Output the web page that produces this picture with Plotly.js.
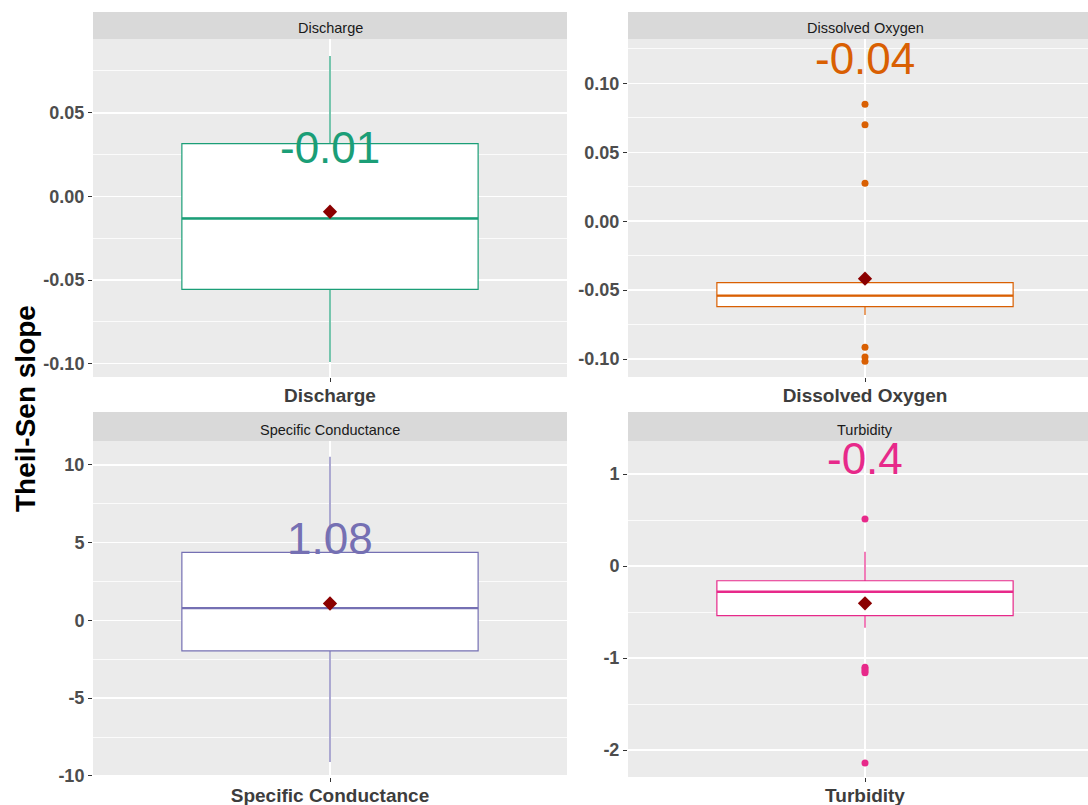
<!DOCTYPE html>
<html>
<head>
<meta charset="utf-8">
<script src="https://cdn.plot.ly/plotly-3.0.1.min.js"></script>
<style>html,body{margin:0;padding:0;background:#fff;}#chart{width:1088px;height:805px;}</style>
</head>
<body>
<div id="chart"></div>
<script>
// ---- data ----
const categories = ['Discharge', 'Dissolved Oxygen', 'Specific Conductance', 'Turbidity'];
const colors = ['#1B9E77', '#D95F02', '#7570B3', '#E7298A'];
const q1Values = [-0.0556, -0.0620, -1.96, -0.54];
const medianValues = [-0.0132, -0.0540, 0.79, -0.28];
const q3Values = [0.0315, -0.0446, 4.38, -0.16];
const lowerWhisker = [-0.099, -0.068, -9.1, -0.67];
const upperWhisker = [0.0839, -0.0446, 10.53, 0.155];
const meanValues = [-0.0092, -0.0417, 1.09, -0.405];
const meanLabels = ['-0.01', '-0.04', '1.08', '-0.4'];
const labelY = [0.0292, 0.1182, 5.30, 1.171];
const outlierDischarge = [];
const outlierOxygen = [0.0848, 0.0700, 0.0275, -0.0915, -0.0985, -0.1015];
const outlierConductance = [];
const outlierTurbidity = [0.51, -1.10, -1.12, -1.14, -1.16, -2.14];
const yRanges = [[-0.108, 0.0941], [-0.113, 0.1322], [-10.07, 11.54], [-2.293, 1.359]];
const yTickVals = [[-0.10, -0.05, 0, 0.05], [-0.10, -0.05, 0, 0.05, 0.10], [-10, -5, 0, 5, 10], [-2, -1, 0, 1]];
const yTickText = [['-0.10', '-0.05', '0.00', '0.05'], ['-0.10', '-0.05', '0.00', '0.05', '0.10'], ['-10', '-5', '0', '5', '10'], ['-2', '-1', '0', '1']];
const yMinorVals = [[-0.075, -0.025, 0.025, 0.075], [-0.075, -0.025, 0.025, 0.075, 0.125], [-7.5, -2.5, 2.5, 7.5], [-1.5, -0.5, 0.5]];
const yTitle = 'Theil-Sen slope';

// ---- layout constants ----
const W = 1088, H = 805;
const BOX_W = 0.75;
const PANEL_PX = 474;              // full panel width in px (right column is cropped by the image edge)
const FONT = 'Liberation Sans, Arial, sans-serif';
const colLeftPx = [93, 628];
const colDomains = colLeftPx.map(l => [l / W, Math.min(l + PANEL_PX, W) / W]);
const colRanges = colLeftPx.map(l => [0.4, 0.4 + 1.2 * (Math.min(l + PANEL_PX, W) - l) / PANEL_PX]);
const rowDomains = [[1 - 377 / H, 1 - 39 / H], [1 - 777 / H, 1 - 441 / H]];
const stripTop = [12, 412];
const outliers = [outlierDischarge, outlierOxygen, outlierConductance, outlierTurbidity];

const traces = [];
const layout = {
  width: W, height: H,
  margin: {l: 0, r: 0, t: 0, b: 0},
  paper_bgcolor: '#FFFFFF',
  plot_bgcolor: '#EBEBEB',
  showlegend: false,
  font: {family: FONT},
  shapes: [],
  annotations: []
};

categories.forEach((cat, i) => {
  const row = Math.floor(i / 2), col = i % 2;
  const sfx = i === 0 ? '' : String(i + 1);
  const xa = 'x' + sfx, ya = 'y' + sfx;
  traces.push({
    type: 'box', xaxis: xa, yaxis: ya,
    x: [1], q1: [q1Values[i]], median: [medianValues[i]], q3: [q3Values[i]],
    lowerfence: [lowerWhisker[i]], upperfence: [upperWhisker[i]],
    width: BOX_W, whiskerwidth: 0, boxpoints: false,
    fillcolor: '#FFFFFF', line: {color: colors[i], width: 1.2},
    hoverinfo: 'skip'
  });
  traces.push({
    type: 'scatter', mode: 'lines', xaxis: xa, yaxis: ya,
    x: [1 - BOX_W / 2, 1 + BOX_W / 2], y: [medianValues[i], medianValues[i]],
    line: {color: colors[i], width: 2.4}, hoverinfo: 'skip'
  });
  if (outliers[i].length) {
    traces.push({
      type: 'scatter', mode: 'markers', xaxis: xa, yaxis: ya,
      x: outliers[i].map(() => 1), y: outliers[i],
      marker: {color: colors[i], size: 7, symbol: 'circle'}, hoverinfo: 'skip'
    });
  }
  traces.push({
    type: 'scatter', mode: 'markers', xaxis: xa, yaxis: ya,
    x: [1], y: [meanValues[i]],
    marker: {color: '#8B0000', size: 11, symbol: 'diamond'}, hoverinfo: 'skip'
  });

  layout['xaxis' + sfx] = {
    domain: colDomains[col], anchor: ya, range: colRanges[col],
    tickmode: 'array', tickvals: [1], ticktext: [cat],
    showgrid: true, gridcolor: '#FFFFFF', gridwidth: 1.6,
    zeroline: false, showline: false,
    ticks: 'outside', ticklen: 4, tickwidth: 1, tickcolor: '#333333',
    ticklabelstandoff: -3,
    tickfont: {family: FONT, size: 19, color: '#3D3D3D', weight: 'bold'},
    fixedrange: true
  };
  layout['yaxis' + sfx] = {
    domain: rowDomains[row], anchor: xa, range: yRanges[i],
    tickmode: 'array', tickvals: yTickVals[i], ticktext: yTickText[i],
    showgrid: true, gridcolor: '#FFFFFF', gridwidth: 1.6,
    minor: {tickmode: 'array', tickvals: yMinorVals[i], showgrid: true, gridcolor: '#FFFFFF', gridwidth: 0.8, ticks: ''},
    zeroline: false, showline: false,
    ticks: 'outside', ticklen: 4, tickwidth: 1, tickcolor: '#333333',
    tickfont: {family: FONT, size: 18, color: '#4D4D4D', weight: 'bold'},
    fixedrange: true
  };
  layout.shapes.push({
    type: 'rect', xref: 'paper', yref: 'paper',
    x0: colDomains[col][0], x1: colDomains[col][1],
    y0: rowDomains[row][1], y1: 1 - stripTop[row] / H,
    fillcolor: '#D9D9D9', line: {width: 0}, layer: 'below'
  });
  layout.annotations.push({
    xref: xa, yref: 'paper',
    x: 1,
    y: (rowDomains[row][1] + 1 - stripTop[row] / H) / 2 - 3 / H,
    text: cat, showarrow: false, xanchor: 'center', yanchor: 'middle',
    font: {family: FONT, size: 14.5, color: '#1A1A1A'}
  });
  layout.annotations.push({
    xref: xa, yref: ya, x: 1, y: labelY[i],
    text: meanLabels[i], showarrow: false, xanchor: 'center', yanchor: 'middle',
    font: {family: FONT, size: 44, color: colors[i]}
  });
});

layout.annotations.push({
  xref: 'paper', yref: 'paper', x: 25 / W, y: 1 - 409 / H,
  text: yTitle, showarrow: false, textangle: -90,
  xanchor: 'center', yanchor: 'middle',
  font: {family: FONT, size: 28, color: '#000000', weight: 'bold'}
});

Plotly.newPlot('chart', traces, layout, {displayModeBar: false, staticPlot: true});
</script>
</body>
</html>
